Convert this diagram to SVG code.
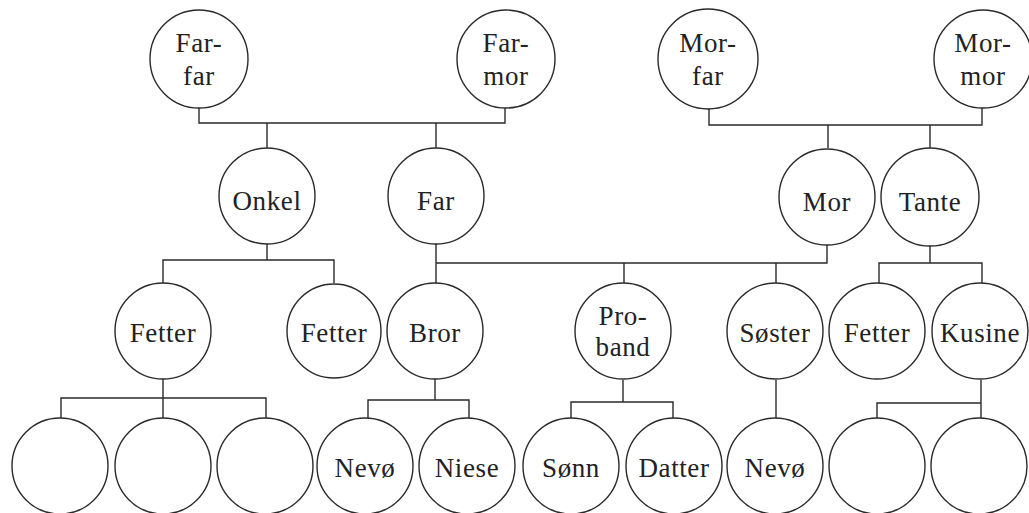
<svg xmlns="http://www.w3.org/2000/svg" width="1029" height="513" viewBox="0 0 1029 513">
<style>
.n{fill:#fff;stroke:#2a2a2a;stroke-width:1.4}
.c{fill:none;stroke:#2a2a2a;stroke-width:1.4}
text{font-family:"Liberation Serif","Times New Roman",serif;font-size:27px;letter-spacing:0.6px;fill:#222;text-anchor:middle}
</style>
<rect width="1029" height="513" fill="#fff"/>
<g id="connectors">
<path class="c" d="M199 107V123H505V107M267 123V148M436 123V148"/>
<path class="c" d="M709 108V125H982V108M828 125V148M930 125V148"/>
<path class="c" d="M267 244V260M163 283V260H334V283"/>
<path class="c" d="M436 244V283M436 263H827V245M624 263V283M776 263V283"/>
<path class="c" d="M930 245V263M879 283V263H982V283"/>
<path class="c" d="M163 379V398M61 419V398H266V419M163 398V419"/>
<path class="c" d="M435 379V400M368 419V400H469V419"/>
<path class="c" d="M623 380V402M571 419V402H673V419"/>
<path class="c" d="M776 380V419"/>
<path class="c" d="M981 380V419M877 419V403H981"/>
</g>
<g id="farfar"><circle class="n" cx="199" cy="59" r="49"/><text x="199" y="52">Far-</text><text x="199" y="85">far</text></g>
<g id="farmor"><circle class="n" cx="506" cy="59" r="49"/><text x="506" y="52">Far-</text><text x="506" y="85">mor</text></g>
<g id="morfar"><circle class="n" cx="708" cy="59" r="50"/><text x="708" y="52">Mor-</text><text x="708" y="85">far</text></g>
<g id="mormor"><circle class="n" cx="983" cy="59" r="49"/><text x="983" y="52">Mor-</text><text x="983" y="85">mor</text></g>
<g id="onkel"><circle class="n" cx="267" cy="196" r="48"/><text x="267" y="210">Onkel</text></g>
<g id="far"><circle class="n" cx="436" cy="196" r="48"/><text x="436" y="210">Far</text></g>
<g id="mor"><circle class="n" cx="827" cy="197" r="48"/><text x="827" y="211">Mor</text></g>
<g id="tante"><circle class="n" cx="930" cy="197" r="49"/><text x="930" y="211">Tante</text></g>
<g id="fetter1"><circle class="n" cx="163" cy="331" r="48"/><text x="163" y="342">Fetter</text></g>
<g id="fetter2"><circle class="n" cx="334" cy="331" r="47"/><text x="334" y="342">Fetter</text></g>
<g id="bror"><circle class="n" cx="435" cy="331" r="48"/><text x="435" y="342">Bror</text></g>
<g id="proband"><circle class="n" cx="623" cy="331" r="48"/><text x="623" y="325">Pro-</text><text x="623" y="356">band</text></g>
<g id="soster"><circle class="n" cx="775" cy="331" r="48"/><text x="775" y="342">Søster</text></g>
<g id="fetter3"><circle class="n" cx="877" cy="331" r="48"/><text x="877" y="342">Fetter</text></g>
<g id="kusine"><circle class="n" cx="980" cy="331" r="48"/><text x="980" y="342">Kusine</text></g>
<g id="b1"><circle class="n" cx="60" cy="466" r="48"/></g>
<g id="b2"><circle class="n" cx="163" cy="466" r="48"/></g>
<g id="b3"><circle class="n" cx="265" cy="466" r="48"/></g>
<g id="nevo1"><circle class="n" cx="365" cy="466" r="48"/><text x="365" y="477">Nevø</text></g>
<g id="niese"><circle class="n" cx="467" cy="466" r="48"/><text x="467" y="477">Niese</text></g>
<g id="sonn"><circle class="n" cx="571" cy="466" r="48"/><text x="571" y="477">Sønn</text></g>
<g id="datter"><circle class="n" cx="674" cy="466" r="48"/><text x="674" y="477">Datter</text></g>
<g id="nevo2"><circle class="n" cx="775" cy="466" r="48"/><text x="775" y="477">Nevø</text></g>
<g id="b4"><circle class="n" cx="877" cy="466" r="48"/></g>
<g id="b5"><circle class="n" cx="979" cy="466" r="48"/></g>
</svg>
